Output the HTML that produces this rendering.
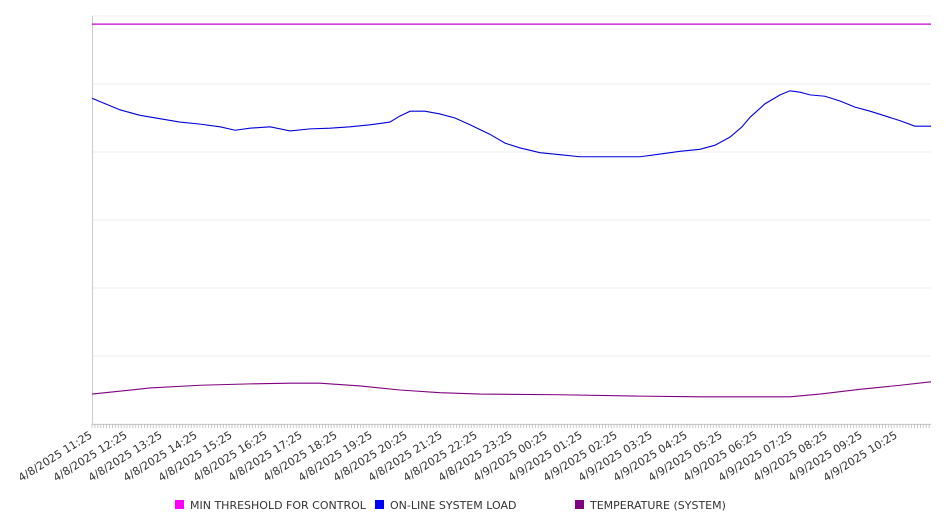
<!DOCTYPE html>
<html><head><meta charset="utf-8"><style>
body{margin:0;background:#fff;width:946px;height:526px;overflow:hidden;font-family:"DejaVu Sans","Liberation Sans",sans-serif}
</style></head><body>
<svg id="chart" width="946" height="526" xmlns="http://www.w3.org/2000/svg"></svg>
<script>
const tickLabels=["4/8/2025 11:25","4/8/2025 12:25","4/8/2025 13:25","4/8/2025 14:25","4/8/2025 15:25","4/8/2025 16:25","4/8/2025 17:25","4/8/2025 18:25","4/8/2025 19:25","4/8/2025 20:25","4/8/2025 21:25","4/8/2025 22:25","4/8/2025 23:25","4/9/2025 00:25","4/9/2025 01:25","4/9/2025 02:25","4/9/2025 03:25","4/9/2025 04:25","4/9/2025 05:25","4/9/2025 06:25","4/9/2025 07:25","4/9/2025 08:25","4/9/2025 09:25","4/9/2025 10:25"];
const thresholdValue=5.88;
const loadHours=[0,0.23,0.8,1.37,1.94,2.51,3.09,3.66,4.09,4.51,5.09,5.66,6.23,6.8,7.37,7.94,8.51,8.8,9.09,9.51,9.94,10.37,10.8,11.37,11.8,12.23,12.8,13.37,13.94,14.51,15.09,15.66,16.23,16.8,17.37,17.8,18.23,18.57,18.8,19.23,19.66,19.94,20.23,20.51,20.94,21.37,21.8,22.23,22.66,23.09,23.51,23.97];
const loadValues=[4.79,4.74,4.62,4.54,4.49,4.44,4.41,4.37,4.32,4.35,4.37,4.31,4.34,4.35,4.37,4.40,4.44,4.53,4.60,4.60,4.56,4.50,4.40,4.26,4.13,4.06,3.99,3.96,3.93,3.93,3.93,3.93,3.97,4.01,4.04,4.10,4.22,4.37,4.51,4.71,4.84,4.90,4.88,4.84,4.82,4.75,4.66,4.60,4.53,4.46,4.38,4.38];
const tempHours=[0,1.66,3.09,4.51,5.66,6.51,7.66,8.8,9.94,11.09,13.37,15.66,17.37,19.09,19.94,20.8,21.94,23.09,23.97];
const tempValues=[0.44,0.53,0.57,0.59,0.60,0.60,0.56,0.50,0.46,0.44,0.43,0.41,0.40,0.40,0.40,0.44,0.51,0.57,0.62];
const legendItems=["MIN THRESHOLD FOR CONTROL","ON-LINE SYSTEM LOAD","TEMPERATURE (SYSTEM)"];
const legendColors=["#ff00ff","#0000ff","#800080"];

const NS="http://www.w3.org/2000/svg";
const svg=document.getElementById('chart');
const X0=92,X1=931,Y0=424,Y1=16,HMAX=23.97,VMAX=6;
const xs=h=>X0+h/HMAX*(X1-X0);
const ys=v=>Y0-v/VMAX*(Y0-Y1);
function mk(t,a){const e=document.createElementNS(NS,t);for(const k in a)e.setAttribute(k,a[k]);svg.appendChild(e);return e;}
for(let i=0;i<=6;i++){
 const g=mk('line',{x1:X0,x2:X1,y1:ys(i),y2:ys(i),stroke:'#ececec','stroke-width':1});
 
 
}
const ax=mk('line',{x1:X0+0.5,x2:X0+0.5,y1:Y1,y2:Y0,stroke:'#ccc'});


const bx=mk('line',{x1:X0,x2:X1,y1:Y0+0.5,y2:Y0+0.5,stroke:'#ccc'});


for(let m=0;m<=HMAX*12;m++){
 const t=mk('line',{x1:xs(m/12),x2:xs(m/12),y1:Y0,y2:Y0+4,stroke:'#bbb','stroke-width':0.8});
 
 
}
tickLabels.forEach((l,i)=>{
 const x=xs(i)+1;
 const t=mk('text',{x:x,y:Y0+13,'text-anchor':'end','font-size':11,fill:'#333',transform:`rotate(-32 ${x} ${Y0+13})`});
 t.textContent=l;
 
 
});
const th=mk('line',{x1:X0,x2:X1,y1:ys(thresholdValue),y2:ys(thresholdValue),stroke:'#cc00cc','stroke-width':1.2});


function line(hs,vs,c,n){
 const p=mk('polyline',{points:hs.map((h,i)=>xs(h)+','+ys(vs[i])).join(' '),fill:'none',stroke:c,'stroke-width':1.1});
 
 
}
line(loadHours,loadValues,'#0000dd','system-load-line');
line(tempHours,tempValues,'#800080','temperature-line');
const lx=[175,375,575];
legendItems.forEach((l,i)=>{
 const r=mk('rect',{x:lx[i],y:500,width:9,height:9,fill:legendColors[i]});
 
 
 const t=mk('text',{x:lx[i]+15,y:509,'font-size':11,fill:'#333'});
 t.textContent=l;
 
 
});
</script>
</body></html>
